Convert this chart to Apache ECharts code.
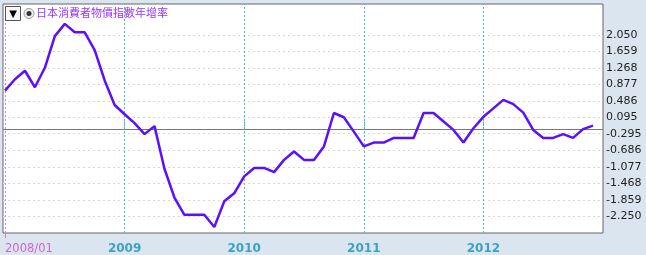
<!DOCTYPE html>
<html><head><meta charset="utf-8">
<script src="https://cdn.jsdelivr.net/npm/echarts@6/dist/echarts.min.js"></script>
<style>html,body{margin:0;padding:0;background:#dbe5ef}#c{width:646px;height:255px}</style>
</head><body><div id="c"></div>
<script>
const seriesName = '日本消費者物價指數年增率';
// monthly values 2008/01 .. 2012/12
const cpiYoY = [0.73,1.00,1.20,0.81,1.27,2.02,2.31,2.11,2.11,1.69,0.97,0.39,
  0.17,-0.04,-0.30,-0.11,-1.12,-1.80,-2.21,-2.21,-2.21,-2.50,-1.89,-1.70,
  -1.30,-1.10,-1.10,-1.20,-0.91,-0.71,-0.91,-0.91,-0.59,0.20,0.10,-0.24,
  -0.59,-0.50,-0.50,-0.39,-0.39,-0.39,0.20,0.20,0.00,-0.20,-0.50,-0.16,
  0.11,0.31,0.51,0.41,0.21,-0.20,-0.39,-0.39,-0.30,-0.39,-0.18,-0.10];
const yTickLabels = ['2.050','1.659','1.268','0.877','0.486','0.095','-0.295','-0.686','-1.077','-1.468','-1.859','-2.250'];
const xYearTicks = [12,24,36,48];
const xYearLabels = ['2009','2010','2011','2012'];
const xStartTick = 0;
const xStartLabel = '2008/01';
const refLineValue = -0.19;

const yTickValues = yTickLabels.map(parseFloat);
const data = cpiYoY.map((v,i)=>[i,v]);
const font = 'DejaVu Sans, Verdana, sans-serif';

const chart = echarts.init(document.getElementById('c'), null, {renderer:'canvas'});
chart.setOption({
  backgroundColor:'#dbe5ef',
  animation:false,
  title:{text:seriesName,left:36,top:7,padding:0,
    textStyle:{color:'#9933ff',fontSize:11,fontWeight:'normal',fontFamily:'Noto Sans CJK TC'}},
  graphic:[
    {type:'rect',shape:{x:5.5,y:6.5,width:15,height:14},style:{fill:'#f4f6f8',stroke:'#555',lineWidth:1},z:100},
    {type:'text',style:{x:13,y:14,text:'▼',fill:'#000',font:'10px DejaVu Sans',align:'center',verticalAlign:'middle'},z:101},
    {type:'circle',shape:{cx:29,cy:13.5,r:5},style:{fill:'#eee',stroke:'#999',lineWidth:1},z:100},
    {type:'circle',shape:{cx:29,cy:13.5,r:2.5},style:{fill:'#333'},z:101}
  ],
  grid:{left:3,right:43,top:4,bottom:22,show:true,backgroundColor:'#fff',borderColor:'#666',borderWidth:1},
  xAxis:[
    {type:'value',min:-0.2,max:60,position:'bottom',
      axisLine:{show:false},splitLine:{show:false},
      axisTick:{show:true,length:5,customValues:xYearTicks,lineStyle:{color:'#44b8d8'}},
      axisLabel:{customValues:xYearTicks,margin:10,color:'#3aa3c4',fontWeight:'bold',fontSize:12,fontFamily:font,
        formatter:v=>{const k=xYearTicks.indexOf(Math.round(v));return k>=0?xYearLabels[k]:'';}}},
    {type:'value',min:-0.2,max:60,position:'bottom',
      axisLine:{show:false},splitLine:{show:false},
      axisTick:{show:true,length:5,customValues:[xStartTick],lineStyle:{color:'#dd77dd'}},
      axisLabel:{customValues:[xStartTick],margin:10,align:'left',color:'#cc66cc',fontSize:11.5,fontFamily:font,
        formatter:()=>xStartLabel}}
  ],
  yAxis:{type:'value',position:'right',min:-2.64,max:2.78,
    axisLine:{show:false},axisTick:{show:false},splitLine:{show:false},
    axisLabel:{customValues:yTickValues,margin:3,color:'#222',fontSize:11,fontFamily:font,
      formatter:v=>{const k=yTickValues.findIndex(t=>Math.abs(t-v)<1e-6);return k>=0?yTickLabels[k]:'';}}},
  series:[
    {type:'line',name:'grid',data:data,silent:true,showSymbol:false,z:1,
      lineStyle:{opacity:0},
      markLine:{silent:true,symbol:'none',label:{show:false},animation:false,
        data:[
          ...yTickValues.map(v=>({yAxis:v,lineStyle:{color:'#d6d6d6',type:[2,3],width:1}})),
          ...xYearTicks.map(v=>({xAxis:v,lineStyle:{color:'#44b8d8',type:[2,2],width:1}})),
          {xAxis:xStartTick,lineStyle:{color:'#dd77dd',type:[2,2],width:1}},
          {yAxis:refLineValue,lineStyle:{color:'#777',type:'solid',width:1}}
        ]}},
    {type:'line',name:seriesName,data:data,showSymbol:false,z:5,
      lineStyle:{color:'#5a10ff',width:2.5}}
  ]
});
</script></body></html>
